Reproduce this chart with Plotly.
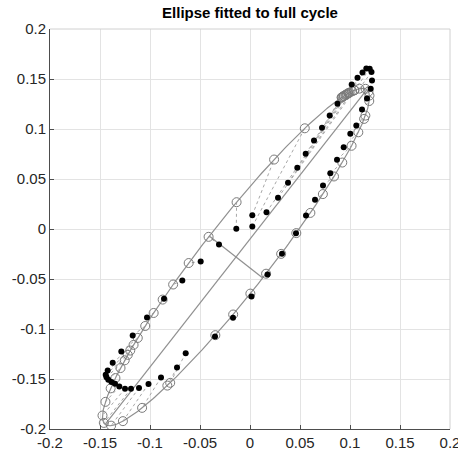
import numpy as np
import plotly.graph_objects as go

# Measured data points (one loading cycle)
data_x = [-0.0137, 0.0023, 0.0023, 0.0165, 0.0280, 0.0380, 0.0473, 0.0557, 0.0640, 0.0720,
          0.0797, 0.0875, 0.1017, 0.1075, 0.1125, 0.1163, 0.1197, 0.1215, 0.1220, 0.1207,
          0.1170, 0.1120, 0.1063, 0.1003, 0.0937, 0.0870, 0.0803, 0.0730, 0.0650, 0.0560,
          0.0460, 0.0320, 0.0175, 0.0015, -0.0170, -0.0350, -0.0643, -0.0730, -0.0890, -0.1015,
          -0.1110, -0.1190, -0.1250, -0.1307, -0.1350, -0.1385, -0.1417, -0.1435, -0.1443, -0.1423,
          -0.1373, -0.1287, -0.1173, -0.1030, -0.0860, -0.0677, -0.0493, -0.0310]
data_y = [0.0002, 0.0025, 0.0137, 0.0168, 0.0312, 0.0462, 0.0612, 0.0752, 0.0885, 0.1012,
          0.1135, 0.1252, 0.1445, 0.1512, 0.1565, 0.1605, 0.1602, 0.1570, 0.1485, 0.1402,
          0.1305, 0.1195, 0.1035, 0.0952, 0.0818, 0.0692, 0.0558, 0.0435, 0.0292, 0.0135,
          -0.0042, -0.0248, -0.0455, -0.0675, -0.0888, -0.1075, -0.1242, -0.1385, -0.1485, -0.1550,
          -0.1590, -0.1598, -0.1598, -0.1575, -0.1548, -0.1530, -0.1508, -0.1482, -0.1458, -0.1415,
          -0.1338, -0.1225, -0.1065, -0.0885, -0.0698, -0.0515, -0.0325, -0.0155]

# Fitted ellipse parameters
center_x = -0.0140
center_y = -0.0280
semi_major = 0.2125
semi_minor = 0.0340
angle_deg = 52.0

tick_vals = [-0.2, -0.15, -0.1, -0.05, 0, 0.05, 0.1, 0.15, 0.2]
tick_text = ["-0.2", "-0.15", "-0.1", "-0.05", "0", "0.05", "0.1", "0.15", "0.2"]

th = np.deg2rad(angle_deg)
ct, st = np.cos(th), np.sin(th)
t = np.linspace(0, 2 * np.pi, 400)
ell_x = center_x + semi_major * np.cos(t) * ct - semi_minor * np.sin(t) * st
ell_y = center_y + semi_major * np.cos(t) * st + semi_minor * np.sin(t) * ct

# radial projection of each data point onto the ellipse
dx = np.array(data_x) - center_x
dy = np.array(data_y) - center_y
u = dx * ct + dy * st
v = -dx * st + dy * ct
s = 1.0 / np.sqrt((u / semi_major) ** 2 + (v / semi_minor) ** 2)
fit_x = center_x + s * dx
fit_y = center_y + s * dy

link_x, link_y = [], []
for a, b, c, d in zip(data_x, data_y, fit_x, fit_y):
    link_x += [a, c, None]
    link_y += [b, d, None]

maj_x = [center_x - semi_major * ct, center_x + semi_major * ct]
maj_y = [center_y - semi_major * st, center_y + semi_major * st]
min_x = [center_x + semi_minor * st, center_x - semi_minor * st]
min_y = [center_y - semi_minor * ct, center_y + semi_minor * ct]

gray = "#909090"
fig = go.Figure()
fig.add_trace(go.Scatter(x=link_x, y=link_y, mode="lines",
                         line=dict(color="#a8a8a8", width=1, dash="dot"), hoverinfo="skip"))
fig.add_trace(go.Scatter(x=ell_x, y=ell_y, mode="lines", line=dict(color=gray, width=1.2)))
fig.add_trace(go.Scatter(x=maj_x, y=maj_y, mode="lines", line=dict(color=gray, width=1.2)))
fig.add_trace(go.Scatter(x=min_x, y=min_y, mode="lines", line=dict(color=gray, width=1.2)))
fig.add_trace(go.Scatter(x=fit_x, y=fit_y, mode="markers",
                         marker=dict(symbol="circle-open", size=9, color="#7a7a7a",
                                     line=dict(width=1, color="#7a7a7a"))))
fig.add_trace(go.Scatter(x=data_x, y=data_y, mode="markers",
                         marker=dict(symbol="circle", size=6, color="black")))

axis_common = dict(range=[-0.2, 0.2], tickvals=tick_vals, ticktext=tick_text,
                   showgrid=True, gridcolor="#e3e3e3", gridwidth=1, zeroline=False,
                   showline=True, linecolor="#4d4d4d", linewidth=1,
                   ticks="inside", ticklen=4, tickcolor="#4d4d4d",
                   ticklabeloverflow="allow", automargin=False,
                   tickfont=dict(family="Liberation Sans, Arial", size=15, color="#262626"),
                   fixedrange=True)
fig.update_layout(
    width=458, height=450,
    margin=dict(l=50, r=8, t=29, b=21, autoexpand=False),
    paper_bgcolor="white", plot_bgcolor="white",
    showlegend=False,
    title=dict(text="<b>Ellipse fitted to full cycle</b>", x=0.5, xref="paper", xanchor="center",
               y=1 - 13 / 450, yanchor="middle", yref="container", automargin=False,
               font=dict(family="Liberation Sans, Arial", size=15, color="black")),
    xaxis=dict(**axis_common),
    yaxis=dict(**axis_common),
)
# top and right frame edges
fig.add_shape(type="line", xref="paper", yref="paper", x0=0, x1=1, y0=1, y1=1,
              line=dict(color="#d0d0d0", width=1))
fig.add_shape(type="line", xref="paper", yref="paper", x0=1, x1=1, y0=0, y1=1,
              line=dict(color="#d0d0d0", width=1))
fig.write_html("out.html")
